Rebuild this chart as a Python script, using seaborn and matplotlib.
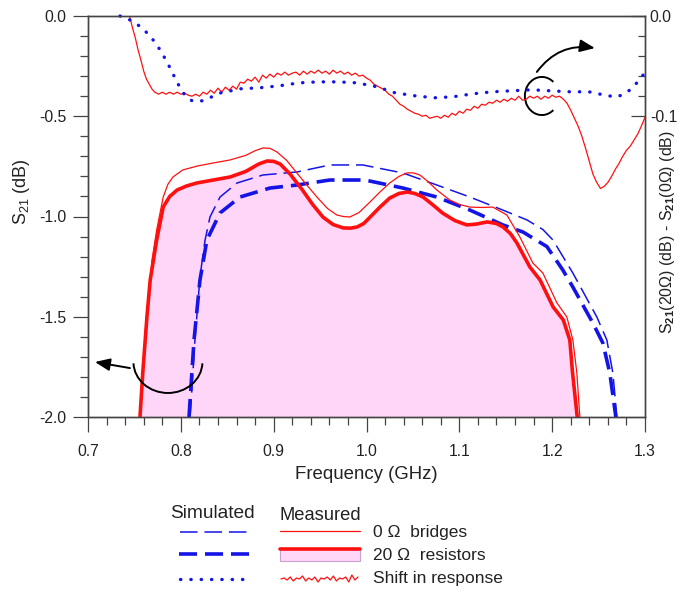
import matplotlib
matplotlib.use('Agg')
import matplotlib.pyplot as plt
import seaborn as sns
from matplotlib.patches import Arc, FancyArrowPatch, Rectangle
from matplotlib.ticker import MultipleLocator, FixedLocator, FormatStrFormatter

# ---- data ----
# measured S21, 20 ohm resistors (thick red, filled)
freq_20m = [0.756, 0.759, 0.7635, 0.767, 0.774, 0.781, 0.788, 0.796, 0.806, 0.817, 0.835, 0.853,
            0.870, 0.884, 0.893, 0.900, 0.907, 0.918, 0.931, 0.942, 0.953, 0.964, 0.975, 0.983,
            0.990, 0.997, 1.004, 1.014, 1.025, 1.035, 1.044, 1.052, 1.061, 1.071, 1.082, 1.095,
            1.108, 1.118, 1.130, 1.140, 1.147, 1.155, 1.162, 1.176, 1.187, 1.201, 1.212, 1.219,
            1.222, 1.227]
s21_20m = [-2.0, -1.78, -1.50, -1.317, -1.117, -0.953, -0.90, -0.868, -0.848, -0.833, -0.818, -0.803,
           -0.775, -0.738, -0.723, -0.725, -0.738, -0.79, -0.868, -0.94, -1.0025, -1.04, -1.057, -1.058,
           -1.052, -1.035, -1.0025, -0.955, -0.908, -0.885, -0.878, -0.885, -0.903, -0.94, -0.983, -1.02,
           -1.042, -1.038, -1.027, -1.035, -1.052, -1.085, -1.132, -1.252, -1.317, -1.451, -1.516, -1.616,
           -1.781, -2.0]

# measured S21, 0 ohm bridges (thin red)
freq_0m = [0.756, 0.7625, 0.769, 0.774, 0.781, 0.786, 0.7915, 0.802, 0.818, 0.835, 0.853, 0.870,
           0.880, 0.8885, 0.896, 0.9035, 0.914, 0.925, 0.936, 0.9466, 0.958, 0.968, 0.975, 0.982,
           0.992, 1.0037, 1.014, 1.025, 1.035, 1.0435, 1.050, 1.0575, 1.066, 1.0758, 1.0898, 1.100,
           1.1114, 1.125, 1.1361, 1.1512, 1.1652, 1.1792, 1.19, 1.2051, 1.2158, 1.2223, 1.2266, 1.2298]
s21_0m = [-2.0, -1.516, -1.217, -1.067, -0.903, -0.84, -0.803, -0.768, -0.748, -0.733, -0.718, -0.695,
          -0.672, -0.658, -0.66, -0.678, -0.72, -0.783, -0.845, -0.903, -0.96, -0.9925, -1.0, -1.0025,
          -0.98, -0.928, -0.88, -0.833, -0.80, -0.783, -0.782, -0.793, -0.825, -0.868, -0.918, -0.940,
          -0.953, -0.955, -0.953, -0.9925, -1.102, -1.232, -1.282, -1.431, -1.501, -1.616, -1.781, -2.0]

# simulated S21, 0 ohm bridges (thin blue dashes)
freq_0s = [0.810, 0.8152, 0.8206, 0.826, 0.8314, 0.8422, 0.8605, 0.8885, 0.9251, 0.9606, 0.9961,
           1.0392, 1.0758, 1.1114, 1.1469, 1.1728, 1.190, 1.2008, 1.2223, 1.2481, 1.2589, 1.2654, 1.2697]
s21_0s = [-2.0, -1.616, -1.302, -1.12, -1.0025, -0.903, -0.833, -0.793, -0.778, -0.743, -0.743,
          -0.783, -0.843, -0.903, -0.968, -1.017, -1.065, -1.117, -1.282, -1.501, -1.616, -1.781, -2.0]

# simulated S21, 20 ohm resistors (thick blue dashes)
freq_20s = [0.8088, 0.8142, 0.8206, 0.8281, 0.8422, 0.8637, 0.896, 0.9251, 0.9606, 0.9983, 1.0392,
            1.0758, 1.1114, 1.1469, 1.1684, 1.1943, 1.2115, 1.2223, 1.2438, 1.2546, 1.2621, 1.2686]
s21_20s = [-2.0, -1.616, -1.317, -1.117, -0.9825, -0.903, -0.858, -0.843, -0.818, -0.818, -0.858,
           -0.903, -0.968, -1.042, -1.077, -1.15, -1.267, -1.352, -1.531, -1.631, -1.781, -2.0]

# simulated shift in response (blue dots, right axis)
freq_shift_s = [0.7345, 0.7452, 0.7571, 0.7668, 0.7743, 0.7808, 0.7862, 0.7915, 0.7969, 0.8034, 0.812,
                0.8228, 0.8335, 0.8432, 0.854, 0.8648, 0.8852, 0.9057, 0.9272, 0.9477, 0.9692, 0.9897,
                1.0112, 1.0306, 1.0521, 1.0726, 1.0931, 1.1146, 1.1361, 1.1566, 1.1781, 1.1975, 1.2191,
                1.2395, 1.26, 1.2707, 1.2815, 1.2912, 1.2998]
shift_s = [0.0, -0.004, -0.0109, -0.0199, -0.0289, -0.0388, -0.0478, -0.0577, -0.0677, -0.0776, -0.0846,
           -0.0846, -0.0806, -0.0766, -0.0746, -0.0726, -0.0716, -0.0697, -0.0667, -0.0657, -0.0657, -0.0667,
           -0.0706, -0.0766, -0.0796, -0.0816, -0.0806, -0.0776, -0.0756, -0.0746, -0.0736, -0.0746, -0.0756,
           -0.0756, -0.0796, -0.0806, -0.0756, -0.0667, -0.0567]

# measured shift in response (noisy red, right axis)
freq_shift_m = [0.745, 0.748, 0.751, 0.754, 0.757, 0.760, 0.763, 0.766, 0.769, 0.772, 0.776, 0.780,
                0.784, 0.788, 0.792, 0.796, 0.800, 0.804, 0.808, 0.812, 0.816, 0.820, 0.824, 0.828,
                0.832, 0.836, 0.840, 0.844, 0.848, 0.852, 0.856, 0.860, 0.864, 0.868, 0.872, 0.876,
                0.880, 0.884, 0.888, 0.892, 0.896, 0.900, 0.904, 0.908, 0.912, 0.916, 0.920, 0.924,
                0.928, 0.932, 0.936, 0.940, 0.944, 0.948, 0.952, 0.956, 0.960, 0.964, 0.968, 0.972,
                0.976, 0.980, 0.984, 0.988, 0.992, 0.996, 1.000, 1.004, 1.008, 1.012, 1.016, 1.020,
                1.024, 1.028, 1.032, 1.036, 1.040, 1.044, 1.048, 1.052, 1.056, 1.060, 1.064, 1.068,
                1.072, 1.076, 1.080, 1.084, 1.088, 1.092, 1.096, 1.100, 1.104, 1.108, 1.112, 1.116,
                1.120, 1.124, 1.128, 1.132, 1.136, 1.140, 1.144, 1.148, 1.152, 1.156, 1.160, 1.164,
                1.168, 1.172, 1.176, 1.180, 1.184, 1.188, 1.192, 1.196, 1.200, 1.204, 1.208, 1.212,
                1.216, 1.220, 1.224, 1.228, 1.232, 1.236, 1.240, 1.244, 1.248, 1.252, 1.256, 1.260,
                1.264, 1.268, 1.272, 1.276, 1.280, 1.284, 1.288, 1.292, 1.296, 1.300]
shift_m = [-0.001, -0.012, -0.022, -0.034, -0.044, -0.055, -0.063, -0.068, -0.073, -0.076, -0.078, -0.076,
           -0.078, -0.076, -0.078, -0.076, -0.078, -0.077, -0.079, -0.080, -0.078, -0.080, -0.076, -0.078,
           -0.074, -0.077, -0.072, -0.076, -0.071, -0.074, -0.070, -0.073, -0.066, -0.067, -0.063, -0.065,
           -0.061, -0.066, -0.059, -0.062, -0.058, -0.061, -0.057, -0.059, -0.056, -0.059, -0.057, -0.056,
           -0.059, -0.055, -0.058, -0.055, -0.057, -0.054, -0.057, -0.055, -0.058, -0.054, -0.057, -0.055,
           -0.058, -0.056, -0.059, -0.057, -0.060, -0.059, -0.062, -0.064, -0.068, -0.070, -0.072, -0.074,
           -0.078, -0.080, -0.084, -0.088, -0.090, -0.093, -0.095, -0.097, -0.098, -0.100, -0.099, -0.102,
           -0.101, -0.100, -0.102, -0.099, -0.101, -0.097, -0.099, -0.095, -0.097, -0.093, -0.094, -0.090,
           -0.092, -0.088, -0.089, -0.086, -0.087, -0.084, -0.086, -0.083, -0.085, -0.082, -0.084, -0.080,
           -0.084, -0.083, -0.080, -0.082, -0.080, -0.083, -0.080, -0.082, -0.079, -0.081, -0.080, -0.083,
           -0.087, -0.094, -0.102, -0.110, -0.120, -0.132, -0.145, -0.158, -0.166, -0.172, -0.170, -0.166,
           -0.160, -0.153, -0.147, -0.140, -0.134, -0.130, -0.124, -0.118, -0.110, -0.101]

# legend zigzag for the measured shift entry (pixel offsets)
zigzag = [0, -1, 1, -2, 2, -1, 0, -3, 2, -1, 1, -2, 3, -1, 0, -2, 1, -3, 2, -1, 0, -2, 3, -4, 1, -2]

RED = '#ff1010'
BLUE = '#1414e6'
PINK = '#ffd6f8'
AXC = '#444444'
DOTS = (0, (0.1, 3.0))

sns.set_style('ticks')
plt.rcParams['font.family'] = ['Liberation Sans', 'DejaVu Sans']
plt.rcParams['axes.unicode_minus'] = False
plt.rcParams['mathtext.fontset'] = 'custom'
plt.rcParams['mathtext.rm'] = 'Liberation Sans'
plt.rcParams['mathtext.it'] = 'Liberation Sans:italic'
plt.rcParams['mathtext.bf'] = 'Liberation Sans:bold'

W, H = 690, 591
fig = plt.figure(figsize=(W / 100, H / 100), dpi=100)
ax = fig.add_axes([88 / W, 1 - 417 / H, 557 / W, 401 / H])
ax2 = ax.twinx()

# main S21 curves (left axis)
ax.fill_between(freq_20m, s21_20m, -2.0, color=PINK, lw=0, zorder=1)
sns.lineplot(x=freq_0s, y=s21_0s, ax=ax, color=BLUE, lw=1.1, linestyle=(0, (11.5, 4.5)),
             estimator=None, sort=False, zorder=3)
sns.lineplot(x=freq_20s, y=s21_20s, ax=ax, color=BLUE, lw=2.6, linestyle=(0, (5, 2.2)),
             estimator=None, sort=False, zorder=3)
sns.lineplot(x=freq_0m, y=s21_0m, ax=ax, color=RED, lw=0.9, estimator=None, sort=False, zorder=4)
sns.lineplot(x=freq_20m, y=s21_20m, ax=ax, color=RED, lw=2.6, estimator=None, sort=False, zorder=4)

# shift curves (right axis)
sns.lineplot(x=freq_shift_m, y=shift_m, ax=ax2, color=RED, lw=0.9, estimator=None, sort=False)
sns.lineplot(x=freq_shift_s, y=shift_s, ax=ax2, color=BLUE, lw=2.4, linestyle=DOTS,
             dash_capstyle='round', estimator=None, sort=False, clip_on=False)

ax.set_xlim(0.7, 1.3)
ax.set_ylim(-2.0, 0.0)
ax2.set_ylim(-0.4, 0.0)

ax.xaxis.set_major_locator(MultipleLocator(0.1))
ax.xaxis.set_minor_locator(MultipleLocator(0.02))
ax.yaxis.set_major_locator(MultipleLocator(0.5))
ax.yaxis.set_minor_locator(MultipleLocator(0.1))
ax.xaxis.set_major_formatter(FormatStrFormatter('%.1f'))
ax.yaxis.set_major_formatter(FormatStrFormatter('%.1f'))
ax2.yaxis.set_major_locator(FixedLocator([0.0, -0.1]))
ax2.yaxis.set_minor_locator(FixedLocator([-0.02, -0.04, -0.06, -0.08]))
ax2.yaxis.set_major_formatter(FormatStrFormatter('%.1f'))

ax.tick_params(which='major', direction='out', length=10.5, width=0.9, color=AXC,
               labelsize=11.3, pad=5, labelcolor='#222222')
ax.tick_params(which='minor', direction='out', length=5.5, width=0.9, color=AXC)
ax.tick_params(axis='x', which='major', pad=9)
ax.tick_params(right=False, top=False, which='both')
ax2.tick_params(which='major', direction='in', length=10, width=0.9, color=AXC,
                labelsize=11.3, pad=3.5, labelcolor='#222222')
ax2.tick_params(which='minor', direction='in', length=5, width=0.9, color=AXC)

for a in (ax, ax2):
    for sp in a.spines.values():
        sp.set_color(AXC)
        sp.set_linewidth(1.0)
        sp.set_visible(True)

ax.set_xlabel('Frequency (GHz)', fontsize=13.4, color='#222222', labelpad=5)
ax.set_ylabel('S$_{21}$ (dB)', fontsize=13, color='#222222')
ax.yaxis.set_label_coords(-0.100, 0.561)
ax2.set_ylabel('S$_{\\mathbf{21}}$(20Ω) (dB) - S$_{\\mathbf{21}}$(0Ω) (dB)', fontsize=11.5,
               color='#222222')
ax2.yaxis.set_label_coords(1.0225, 0.462)

# pointer to left axis
ax.add_patch(Arc((0.7861, -1.7257), 0.0743, 0.309, theta1=190, theta2=350, color='black',
                 lw=1.4, zorder=6))
ax.add_patch(FancyArrowPatch((0.7452, -1.756), (0.7075, -1.7257),
                             arrowstyle='-|>,head_length=0.6,head_width=0.25', mutation_scale=15,
                             color='black', lw=1.4, shrinkA=0, shrinkB=0, zorder=6))
# pointer to right axis
ax.add_patch(Arc((1.1889, -0.399), 0.0366, 0.19, theta1=80, theta2=280, color='black',
                 lw=1.4, zorder=6))
ax.add_patch(FancyArrowPatch((1.1835, -0.279), (1.246, -0.160),
                             connectionstyle='arc3,rad=-0.3',
                             arrowstyle='-|>,head_length=0.6,head_width=0.25', mutation_scale=15,
                             color='black', lw=1.4, shrinkA=0, shrinkB=0, zorder=6))

# custom legend below the axes, in figure pixel space
leg = fig.add_axes([0, 0, 1, 1], zorder=-1)
leg.set_xlim(0, W)
leg.set_ylim(H, 0)
leg.axis('off')
leg.patch.set_alpha(0)
txt = dict(fontsize=12.5, color='#222222', va='center')
leg.text(212, 514, 'Simulated', ha='center', fontsize=13.8, color='#222222', va='center')
leg.text(320, 515, 'Measured', ha='center', fontsize=13.2, color='#222222', va='center')
leg.plot([180, 249], [532, 532], color=BLUE, lw=1.1, linestyle=(0, (11.5, 4.5)))
leg.plot([179, 251], [554, 554], color=BLUE, lw=2.6, linestyle=(0, (5, 2.2)))
leg.plot([180, 251], [579, 579], color=BLUE, lw=2.4, linestyle=DOTS, dash_capstyle='round')
leg.plot([280, 360], [531, 531], color=RED, lw=0.9)
leg.add_patch(Rectangle((280, 549), 80, 12, facecolor=PINK, edgecolor='#c9a0d0', lw=0.8))
leg.plot([280, 360], [549, 549], color=RED, lw=2.6)
zx = [281 + i * 77 / (len(zigzag) - 1) for i in range(len(zigzag))]
zy = [579 + d for d in zigzag]
leg.plot(zx, zy, color=RED, lw=0.9)
leg.text(373, 533, '0 Ω  bridges', ha='left', **txt)
leg.text(373, 556, '20 Ω  resistors', ha='left', **txt)
leg.text(373, 579, 'Shift in response', ha='left', **txt)

fig.savefig('out.png', dpi=100)
